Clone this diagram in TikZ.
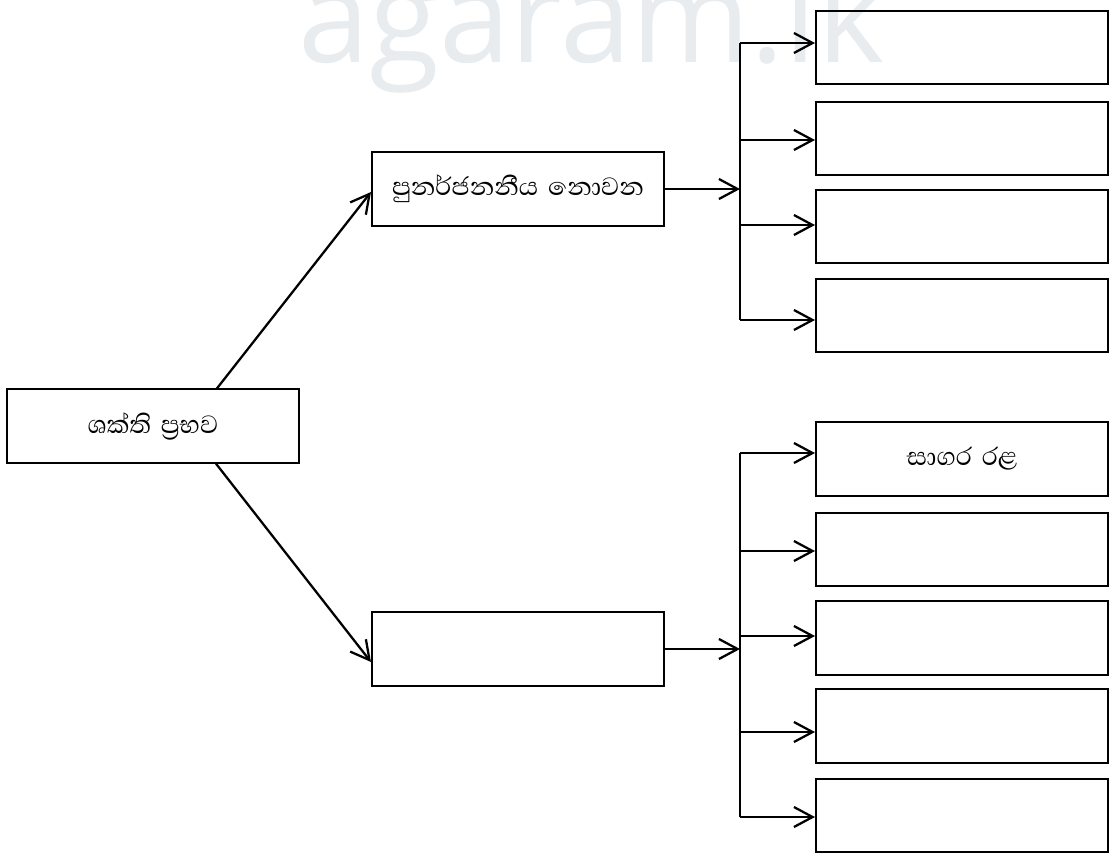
\documentclass[tikz,border=0pt]{standalone}
\usepackage{fontspec}
\newfontfamily\sinfont[Script=Sinhala,WordSpace=1.6]{Abhaya Libre}
\newfontfamily\wmfont{Open Sans}
\usetikzlibrary{arrows.meta,calc}
\definecolor{wmgray}{RGB}{232,236,239}
\tikzset{
  box/.style={draw, line width=1.5pt, minimum width=219pt, minimum height=55pt, inner sep=0pt, font=\sinfont\fontsize{24}{26}\selectfont},
  conn/.style={line width=1.7pt},
  arr/.style={conn, -{Straight Barb[length=14pt,width=15pt,line width=1.7pt]}}
}
\begin{document}
\begin{tikzpicture}[x=0.75pt,y=-0.75pt]
\useasboundingbox (0,0) rectangle (1113,861);
\node[font=\wmfont\fontsize{96}{96}\selectfont, text=wmgray, anchor=base west, inner sep=0pt] (wm) at (298,62) {agaram.lk};
% main boxes
\node[box] (src) at (153,426) {ශක්ති ප්^^^^200dරභව};
\node[box] (nren) at (518,189) {පුනර්ජනනීය නොවන};
\node[box] (ren) at (518,649) {};
% right boxes, top group
\node[box] (r1) at (962,47.5) {};
\node[box] (r2) at (962,138.5) {};
\node[box] (r3) at (962,226.5) {};
\node[box] (r4) at (962,315.5) {};
% right boxes, bottom group
\node[box] (s1) at (962,459) {සාගර රළ};
\node[box] (s2) at (962,549.5) {};
\node[box] (s3) at (962,638) {};
\node[box] (s4) at (962,726) {};
\node[box] (s5) at (962,815.5) {};
% diagonal connectors
\draw[arr] ($(src.north)+(64,0)$) -- ($(nren.west)+(0,3)$);
\draw[arr] ($(src.south)+(63,0)$) -- ($(ren.west)+(0,13)$);
% top bus
\coordinate (tb) at (740,0);
\coordinate (a1) at ($(r1.west)+(0,-4.5)$);
\coordinate (a2) at ($(r2.west)+(0,1.5)$);
\coordinate (a3) at ($(r3.west)+(0,-1.5)$);
\coordinate (a4) at ($(r4.west)+(0,4.5)$);
\draw[conn] (a1 -| tb) -- (a4 -| tb);
\draw[arr] (nren.east) -- (nren.east -| tb);
\foreach \a in {a1,a2,a3,a4} \draw[arr] (\a -| tb) -- (\a);
% bottom bus
\coordinate (bb) at (740,0);
\coordinate (c1) at ($(s1.west)+(0,-6)$);
\coordinate (c2) at ($(s2.west)+(0,1.5)$);
\coordinate (c3) at ($(s3.west)+(0,-2)$);
\coordinate (c4) at ($(s4.west)+(0,6)$);
\coordinate (c5) at ($(s5.west)+(0,1.5)$);
\draw[conn] (c1 -| bb) -- (c5 -| bb);
\draw[arr] (ren.east) -- (ren.east -| bb);
\foreach \c in {c1,c2,c3,c4,c5} \draw[arr] (\c -| bb) -- (\c);
\end{tikzpicture}
\end{document}
